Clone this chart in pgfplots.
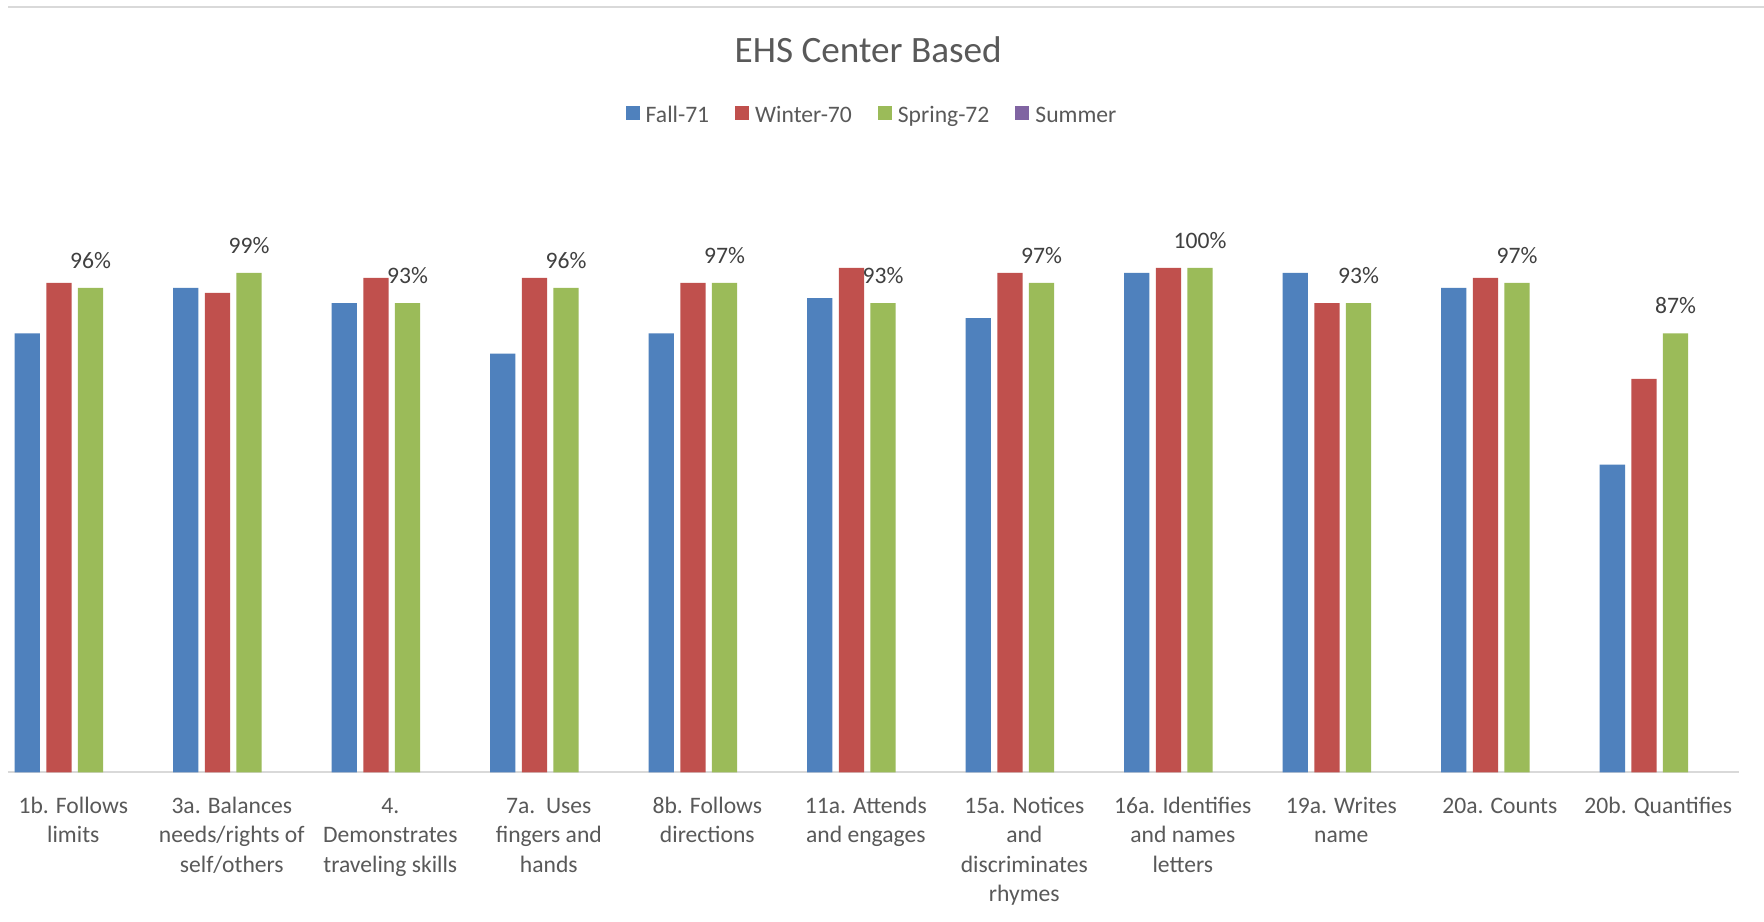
\documentclass[border=0pt]{standalone}
\usepackage{pgfplots}
\pgfplotsset{compat=1.18}
\usepackage{fontspec}
\setmainfont{Carlito}
\definecolor{cFall}{HTML}{4F81BD}
\definecolor{cWinter}{HTML}{C0504D}
\definecolor{cSpring}{HTML}{9BBB59}
\definecolor{cSummer}{HTML}{8064A2}
\definecolor{txt}{HTML}{595959}
\definecolor{lab}{HTML}{404040}
\definecolor{linegray}{HTML}{D9D9D9}
\newcommand{\T}{\vphantom{lbd}}
\pgfplotsset{sqleg/.style={legend image code/.code={\fill[##1] (0pt,-2.25pt) rectangle (7pt,4.75pt);}}}
\begin{document}
\begin{tikzpicture}
\path[use as bounding box] (0,0) rectangle (882pt,460.5pt);
\fill[white] (0,0) rectangle (882pt,460.5pt);
\draw[linegray, line width=0.85pt] (4pt,457.15pt) -- (882pt,457.15pt);
\node[font=\fontsize{18.6pt}{22pt}\selectfont, text=txt, anchor=base, inner sep=0pt] at (434.1pt,429.35pt) {EHS Center Based};
\begin{axis}[
  at={(4pt,74.35pt)}, anchor=south west,
  scale only axis, width=865.5pt, height=277.5pt,
  xmin=-0.412, xmax=10.509, ymin=0, ymax=110,
  axis x line=bottom, axis y line=none,
  x axis line style={-, draw=linegray, line width=0.85pt},
  xtick={0,...,10}, major tick length=0pt,
  xticklabels={{\T 1b. Follows\\limits},{\T 3a. Balances\\needs/rights of\\self/others},{\T 4.\\Demonstrates\\traveling skills},{\T 7a.\ \ Uses\\fingers and\\hands},{\T 8b. Follows\\directions},{\T 11a. Attends\\and engages},{\T 15a. Notices\\and\\discriminates\\rhymes},{\T 16a. Identifies\\and names\\letters},{\T 19a. Writes\\name},{\T 20a. Counts},{\T 20b. Quantifies}},
  xticklabel style={align=center, font=\fontsize{11.8pt}{14.8pt}\selectfont, text=txt, anchor=north, inner sep=0pt, yshift=-12pt},
  ybar, bar width=12.65pt,
  /pgf/number format/assume math mode=true,
  legend columns=4,
  legend style={at={(0.5003,1.1826)}, anchor=center, draw=none, fill=none,
    font=\fontsize{11.8pt}{14.8pt}\selectfont, text=txt,
    nodes={inner xsep=3pt},
    /tikz/every even column/.append style={column sep=10pt}},
]
\addplot[fill=cFall, draw=none, bar shift=-23pt, sqleg] coordinates {(0,87) (1,96) (2,93) (3,83) (4,87) (5,94) (6,90) (7,99) (8,99) (9,96) (10,61)};
\addlegendentry{Fall-71}
\addplot[fill=cWinter, draw=none, bar shift=-7.2pt, sqleg] coordinates {(0,97) (1,95) (2,98) (3,98) (4,97) (5,100) (6,99) (7,100) (8,93) (9,98) (10,78)};
\addlegendentry{Winter-70}
\addplot[fill=cSpring, draw=none, bar shift=8.6pt, sqleg,
  nodes near coords={\pgfmathprintnumber{\pgfplotspointmeta}\%},
  every node near coord/.append style={font=\fontsize{11.8pt}{14.8pt}\selectfont, text=lab, yshift=6.2pt}] coordinates {(0,96) (1,99) (2,93) (3,96) (4,97) (5,93) (6,97) (7,100) (8,93) (9,97) (10,87)};
\addlegendentry{Spring-72}
\addlegendimage{fill=cSummer, draw=none, sqleg}
\addlegendentry{Summer}
\end{axis}
\end{tikzpicture}
\end{document}
